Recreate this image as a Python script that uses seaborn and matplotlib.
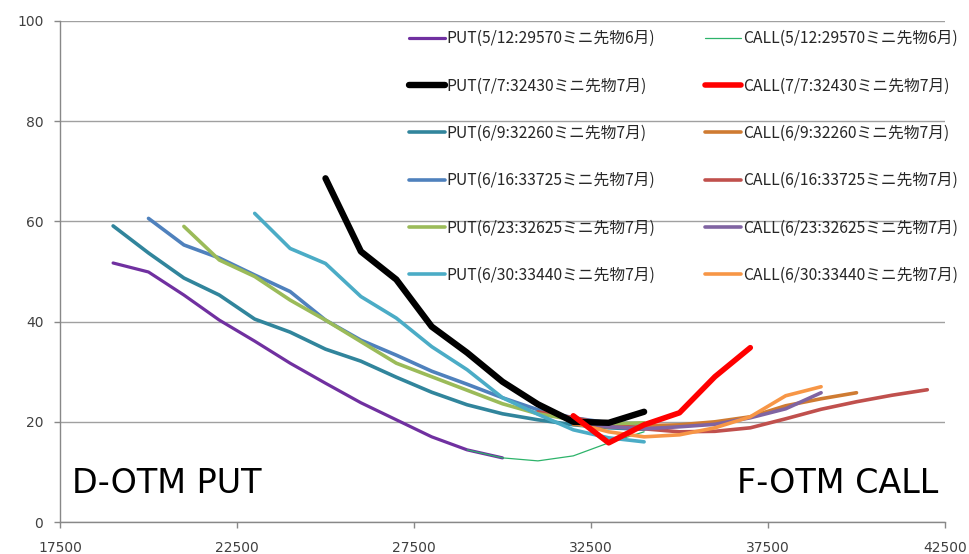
import matplotlib
matplotlib.use("Agg")
import matplotlib.pyplot as plt
import seaborn as sns
import pandas as pd

# ---------------- data ----------------
put_0512_x = [19000, 20000, 21000, 22000, 23000, 24000, 25000, 26000, 27000, 28000, 29000, 30000]
put_0512_y = [51.7, 49.9, 45.3, 40.3, 36.1, 31.7, 27.7, 23.8, 20.4, 17.0, 14.4, 12.8]
call_0512_x = [29000, 30000, 31000, 32000, 33000, 34000]
call_0512_y = [14.4, 12.8, 12.2, 13.2, 15.8, 18.0]

put_0707_x = [25000, 26000, 27000, 28000, 29000, 30000, 31000, 32000, 33000, 34000]
put_0707_y = [68.6, 54.0, 48.4, 39.0, 33.8, 28.0, 23.5, 20.0, 19.8, 22.0]
call_0707_x = [32000, 33000, 34000, 35000, 36000, 37000]
call_0707_y = [21.2, 15.8, 19.4, 21.8, 29.0, 34.8]

put_0609_x = [19000, 20000, 21000, 22000, 23000, 24000, 25000, 26000, 27000, 28000, 29000, 30000, 31000, 32000, 33000, 34000]
put_0609_y = [59.1, 53.7, 48.7, 45.3, 40.5, 37.9, 34.5, 32.1, 28.9, 25.9, 23.4, 21.6, 20.4, 19.4, 18.8, 18.5]
call_0609_x = [32000, 33000, 34000, 35000, 36000, 37000, 38000, 39000, 40000]
call_0609_y = [19.5, 19.0, 19.2, 19.4, 20.0, 21.0, 23.2, 24.6, 25.8]

put_0616_x = [20000, 21000, 22000, 23000, 24000, 25000, 26000, 27000, 28000, 29000, 30000, 31000, 32000, 33000, 34000]
put_0616_y = [60.6, 55.3, 52.7, 49.3, 46.0, 40.3, 36.3, 33.3, 30.1, 27.5, 24.8, 22.4, 20.8, 19.8, 19.6]
call_0616_x = [31000, 32000, 33000, 34000, 35000, 36000, 37000, 38000, 39000, 40000, 41000, 42000]
call_0616_y = [22.0, 20.8, 19.5, 18.6, 18.0, 18.1, 18.8, 20.6, 22.5, 24.0, 25.3, 26.4]

put_0623_x = [21000, 22000, 23000, 24000, 25000, 26000, 27000, 28000, 29000, 30000, 31000, 32000, 33000, 34000]
put_0623_y = [59.0, 52.3, 49.0, 44.3, 40.3, 36.0, 31.7, 29.0, 26.3, 23.6, 21.6, 20.4, 19.6, 19.8]
call_0623_x = [32000, 33000, 34000, 35000, 36000, 37000, 38000, 39000]
call_0623_y = [20.0, 19.0, 18.6, 19.0, 19.5, 20.8, 22.6, 25.8]

put_0630_x = [23000, 24000, 25000, 26000, 27000, 28000, 29000, 30000, 31000, 32000, 33000, 34000]
put_0630_y = [61.6, 54.6, 51.6, 45.0, 40.7, 35.0, 30.4, 24.8, 21.5, 18.4, 16.8, 16.0]
call_0630_x = [32000, 33000, 34000, 35000, 36000, 37000, 38000, 39000]
call_0630_y = [19.8, 18.0, 17.0, 17.4, 18.8, 21.0, 25.2, 27.0]

labels = {
    "p0512": "PUT(5/12:29570ミニ先物6月)", "c0512": "CALL(5/12:29570ミニ先物6月)",
    "p0707": "PUT(7/7:32430ミニ先物7月)", "c0707": "CALL(7/7:32430ミニ先物7月)",
    "p0609": "PUT(6/9:32260ミニ先物7月)", "c0609": "CALL(6/9:32260ミニ先物7月)",
    "p0616": "PUT(6/16:33725ミニ先物7月)", "c0616": "CALL(6/16:33725ミニ先物7月)",
    "p0623": "PUT(6/23:32625ミニ先物7月)", "c0623": "CALL(6/23:32625ミニ先物7月)",
    "p0630": "PUT(6/30:33440ミニ先物7月)", "c0630": "CALL(6/30:33440ミニ先物7月)",
}

x_ticks = [17500, 22500, 27500, 32500, 37500, 42500]
y_ticks = [0, 20, 40, 60, 80, 100]

# ---------------- style ----------------
sns.set_theme(style="white")
plt.rcParams["font.family"] = ["DejaVu Sans", "Noto Sans CJK JP"]

fig = plt.figure(figsize=(9.69, 5.54), dpi=100)
ax = fig.add_axes([60 / 969, 32 / 554, 885 / 969, 501 / 554])

series = [
    ("p0512", put_0512_x, put_0512_y, "#7030A0", 2.3),
    ("c0512", call_0512_x, call_0512_y, "#2DB36A", 0.9),
    ("p0609", put_0609_x, put_0609_y, "#31859C", 2.6),
    ("c0609", call_0609_x, call_0609_y, "#CF7B32", 2.6),
    ("p0616", put_0616_x, put_0616_y, "#4F81BD", 2.6),
    ("c0616", call_0616_x, call_0616_y, "#C0504D", 2.6),
    ("p0623", put_0623_x, put_0623_y, "#9BBB59", 2.6),
    ("c0623", call_0623_x, call_0623_y, "#8064A2", 2.6),
    ("p0630", put_0630_x, put_0630_y, "#4BACC6", 2.6),
    ("c0630", call_0630_x, call_0630_y, "#F79646", 2.6),
    ("p0707", put_0707_x, put_0707_y, "#000000", 4.6),
    ("c0707", call_0707_x, call_0707_y, "#FF0000", 4.0),
]

handles = {}
for key, xs, ys, col, lw in series:
    df = pd.DataFrame({"strike": xs, "iv": ys})
    sns.lineplot(data=df, x="strike", y="iv", ax=ax, color=col, linewidth=lw,
                 solid_capstyle="round")
    handles[key] = ax.lines[-1]

order = ["p0512", "p0707", "p0609", "p0616", "p0623", "p0630",
         "c0512", "c0707", "c0609", "c0616", "c0623", "c0630"]
leg = ax.legend([handles[k] for k in order], [labels[k] for k in order],
                ncol=2, frameon=False, loc="upper left",
                bbox_to_anchor=(0.387, 0.994),
                prop={"family": ["Noto Sans CJK JP"], "size": 11.3},
                handlelength=2.3, handletextpad=0.12, labelspacing=1.93,
                columnspacing=3.15, borderaxespad=0.0)
for t in leg.get_texts():
    t.set_color("#262626")

ax.set_xlim(17500, 42500)
ax.set_ylim(0, 100)
ax.set_xticks(x_ticks)
ax.set_yticks(y_ticks)
ax.set_xlabel("")
ax.set_ylabel("")
ax.yaxis.grid(True, color="#A0A0A0", linewidth=1.0)
ax.xaxis.grid(False)
ax.set_axisbelow(True)
for s in ["top", "right"]:
    ax.spines[s].set_visible(False)
for s in ["left", "bottom"]:
    ax.spines[s].set_color("#888888")
    ax.spines[s].set_linewidth(1.0)
ax.tick_params(axis="both", which="major", direction="out", length=4,
               width=1, color="#888888", labelsize=10, labelcolor="#404040")
ax.tick_params(axis="y", pad=8)
ax.tick_params(axis="x", pad=10)
ax.tick_params(left=True, bottom=True)

ax.text(0.0136, 0.058, "D-OTM PUT", transform=ax.transAxes, fontsize=24,
        ha="left", va="baseline", color="#000000")
ax.text(0.992, 0.058, "F-OTM CALL", transform=ax.transAxes, fontsize=24,
        ha="right", va="baseline", color="#000000")

fig.savefig("out.png", dpi=100)
